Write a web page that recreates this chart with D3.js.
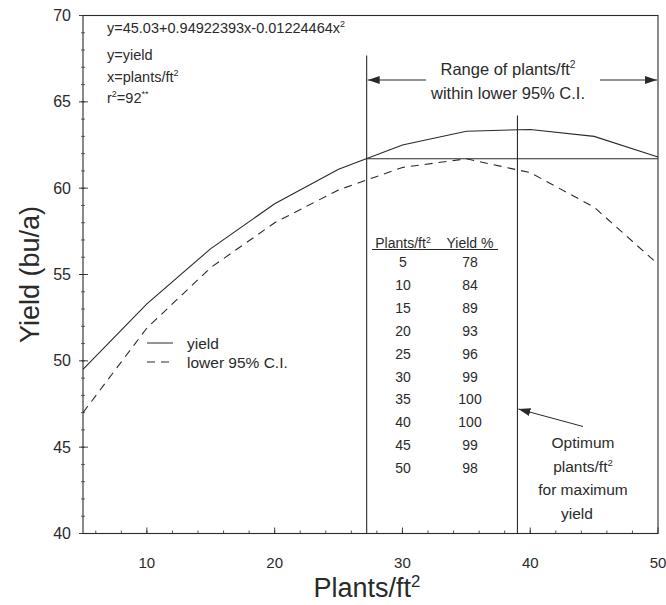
<!DOCTYPE html>
<html>
<head>
<meta charset="utf-8">
<script src="https://cdn.jsdelivr.net/npm/d3@7"></script>
<style>
  body { margin: 0; background: #fff; }
  svg { display: block; font-family: "Liberation Sans", Arial, sans-serif; }
</style>
</head>
<body>
<div class="chart"></div>
<script>
// values
const plants = [5, 10, 15, 20, 25, 30, 35, 40, 45, 50];
const yieldVals = [49.5, 53.3, 56.5, 59.1, 61.1, 62.5, 63.3, 63.4, 63.0, 61.8];
const lowerCI = [47.0, 51.9, 55.4, 58.0, 59.9, 61.2, 61.7, 60.9, 58.9, 55.6];
const tablePlants = [5, 10, 15, 20, 25, 30, 35, 40, 45, 50];
const tableYieldPct = [78, 84, 89, 93, 96, 99, 100, 100, 99, 98];
const xTicks = [10, 20, 30, 40, 50];
const yTicks = [40, 45, 50, 55, 60, 65, 70];
const rangeStart = 27.2;   // left edge of the range within lower 95% C.I.
const optimum = 39;        // plants/ft2 for maximum yield
const rangeLevel = 61.7;   // yield level the range is cut at

const W = 666, H = 605;
let margin = {top: 15.5, right: 8, bottom: 71.5, left: 83};
const width = W - margin.left - margin.right;
const height = H - margin.top - margin.bottom;
const ink = "#2a2a2a";

const root = d3.select(".chart")
    .append("svg")
    .attr("width", W)
    .attr("height", H);

const defs = root.append("defs");
defs.append("marker")
    .attr("id", "arrow")
    .attr("viewBox", "0 0 12 8")
    .attr("refX", 12).attr("refY", 4)
    .attr("markerWidth", 12).attr("markerHeight", 8)
    .attr("markerUnits", "userSpaceOnUse")
    .attr("orient", "auto")
    .append("path")
    .attr("d", "M0,0 L12,4 L0,8 Z")
    .attr("fill", ink);

const svg = root.append("g")
    .attr("transform", "translate(" + margin.left + "," + margin.top + ")");

let xScale = d3.scaleLinear().domain([5, 50]).range([0, width]);
let yScale = d3.scaleLinear().domain([40, 70]).range([height, 0]);

// text with superscripts: parts = [[str, isSup], ...]
function richText(g, x, y, parts, size, anchor) {
    const t = g.append("text")
        .attr("x", x).attr("y", y)
        .attr("font-size", size)
        .attr("fill", ink)
        .attr("text-anchor", anchor || "start");
    let up = false;
    parts.forEach(p => {
        const s = t.append("tspan").text(p[0]);
        if (p[1] && !up) { s.attr("dy", -size * 0.38).attr("font-size", size * 0.62); up = true; }
        else if (p[1]) { s.attr("font-size", size * 0.62); }
        else if (up) { s.attr("dy", size * 0.38); up = false; }
    });
    return t;
}

// frame
svg.append("rect")
    .attr("width", width).attr("height", height)
    .attr("fill", "none").attr("stroke", ink).attr("stroke-width", 1.1);

// x ticks (inward), minor every 2
d3.range(6, 50, 2).forEach(v => {
    svg.append("line")
        .attr("x1", xScale(v)).attr("x2", xScale(v))
        .attr("y1", height).attr("y2", height - 3)
        .attr("stroke", ink).attr("stroke-width", 0.8);
});
xTicks.forEach(v => {
    svg.append("line")
        .attr("x1", xScale(v)).attr("x2", xScale(v))
        .attr("y1", height).attr("y2", height - 6)
        .attr("stroke", ink).attr("stroke-width", 0.9);
    svg.append("text")
        .attr("x", xScale(v)).attr("y", height + 34)
        .attr("text-anchor", "middle")
        .attr("font-size", 15).attr("fill", ink)
        .text(v);
});

// y ticks, minor every 1
d3.range(41, 70, 1).forEach(v => {
    svg.append("line")
        .attr("x1", -2).attr("x2", 2)
        .attr("y1", yScale(v)).attr("y2", yScale(v))
        .attr("stroke", ink).attr("stroke-width", 0.7);
});
yTicks.forEach(v => {
    svg.append("line")
        .attr("x1", -4).attr("x2", 5)
        .attr("y1", yScale(v)).attr("y2", yScale(v))
        .attr("stroke", ink).attr("stroke-width", 0.9);
    svg.append("text")
        .attr("x", -12).attr("y", yScale(v) + 5.5)
        .attr("text-anchor", "end")
        .attr("font-size", 16).attr("fill", ink)
        .text(v);
});

// axis titles
root.append("text")
    .attr("transform", "translate(39," + (margin.top + yScale(55)) + ") rotate(-90)")
    .attr("text-anchor", "middle")
    .attr("font-size", 27).attr("fill", ink)
    .text("Yield (bu/a)");
richText(root, 367, 597, [["Plants/ft"], ["2", true]], 27, "middle");

// curves
const line = d3.line()
    .x((d, i) => xScale(plants[i]))
    .y(d => yScale(d));

svg.append("path")
    .datum(yieldVals)
    .attr("d", line)
    .attr("fill", "none").attr("stroke", ink).attr("stroke-width", 1.1);

svg.append("path")
    .datum(lowerCI)
    .attr("d", line)
    .attr("fill", "none").attr("stroke", ink).attr("stroke-width", 1.1)
    .attr("stroke-dasharray", "8,6");

// range lines
svg.append("line")
    .attr("x1", xScale(rangeStart)).attr("x2", xScale(50))
    .attr("y1", yScale(rangeLevel)).attr("y2", yScale(rangeLevel))
    .attr("stroke", ink).attr("stroke-width", 1.1);
svg.append("line")
    .attr("x1", xScale(rangeStart)).attr("x2", xScale(rangeStart))
    .attr("y1", 40).attr("y2", height)
    .attr("stroke", ink).attr("stroke-width", 1.1);
svg.append("line")
    .attr("x1", xScale(optimum)).attr("x2", xScale(optimum))
    .attr("y1", 100).attr("y2", height)
    .attr("stroke", ink).attr("stroke-width", 1.1);

// range arrows + label
const arrowY = 64.5;
svg.append("line")
    .attr("x1", 343).attr("x2", xScale(rangeStart) + 1)
    .attr("y1", arrowY).attr("y2", arrowY)
    .attr("stroke", ink).attr("stroke-width", 1.1)
    .attr("marker-end", "url(#arrow)");
svg.append("line")
    .attr("x1", 517).attr("x2", width - 1)
    .attr("y1", arrowY).attr("y2", arrowY)
    .attr("stroke", ink).attr("stroke-width", 1.1)
    .attr("marker-end", "url(#arrow)");
richText(svg, 425, 59, [["Range of plants/ft"], ["2", true]], 16.5, "middle");
richText(svg, 425, 83, [["within lower 95% C.I."]], 16.5, "middle");

// optimum arrow + label
svg.append("line")
    .attr("x1", 500).attr("x2", xScale(optimum) + 1)
    .attr("y1", 411).attr("y2", 393.5)
    .attr("stroke", ink).attr("stroke-width", 1)
    .attr("marker-end", "url(#arrow)");
[["Optimum"], null, ["for maximum"], ["yield"]].forEach((p, i) => {
    const ty = 448 + i * 23.5 - margin.top;
    if (i === 1) richText(svg, 500, ty, [["plants/ft"], ["2", true]], 15.5, "middle");
    else richText(svg, i === 3 ? 494 : 500, ty, [p], 15.5, "middle");
});

// equation block
const eq = svg.append("g");
richText(eq, 24, 17.5, [["y=45.03+0.94922393x-0.01224464x"], ["2", true]], 14.5, "start");
richText(eq, 24, 44.5, [["y=yield"]], 14.5, "start");
richText(eq, 24, 66, [["x=plants/ft"], ["2", true]], 14.5, "start");
richText(eq, 24, 87.5, [["r"], ["2", true], ["=92"], ["**", true]], 14.5, "start");

// legend
const leg = svg.append("g");
leg.append("line").attr("x1", 64).attr("x2", 90).attr("y1", 327.5).attr("y2", 327.5)
    .attr("stroke", ink).attr("stroke-width", 1);
leg.append("line").attr("x1", 64).attr("x2", 90).attr("y1", 346.5).attr("y2", 346.5)
    .attr("stroke", ink).attr("stroke-width", 1).attr("stroke-dasharray", "8,6");
richText(leg, 104, 333, [["yield"]], 15.5, "start");
richText(leg, 104, 352, [["lower 95% C.I."]], 15.5, "start");

// table
const tbl = svg.append("g");
richText(tbl, 320, 232.5, [["Plants/ft"], ["2", true]], 14, "middle");
richText(tbl, 387, 232.5, [["Yield %"]], 14, "middle");
tbl.append("line").attr("x1", 289).attr("x2", 415).attr("y1", 234).attr("y2", 234)
    .attr("stroke", ink).attr("stroke-width", 1);
tablePlants.forEach((p, i) => {
    const ty = 251.5 + i * 22.9;
    tbl.append("text").attr("x", 320).attr("y", ty)
        .attr("text-anchor", "middle").attr("font-size", 14).attr("fill", ink).text(p);
    tbl.append("text").attr("x", 387).attr("y", ty)
        .attr("text-anchor", "middle").attr("font-size", 14).attr("fill", ink).text(tableYieldPct[i]);
});
</script>
</body>
</html>
